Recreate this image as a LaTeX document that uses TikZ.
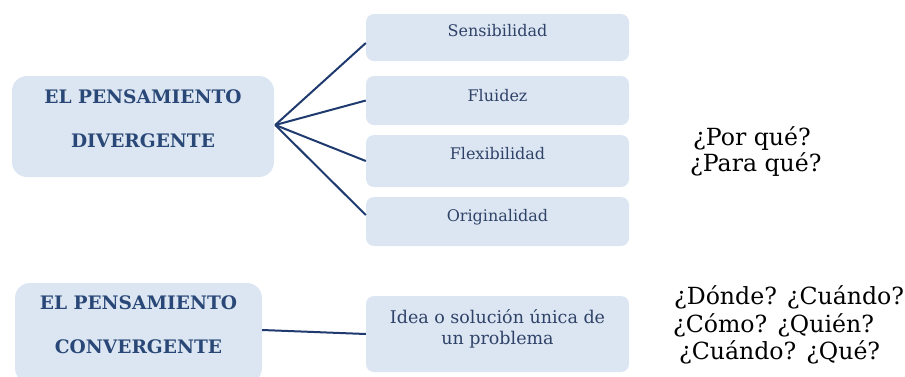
\documentclass[tikz,border=0pt]{standalone}
\usepackage{fontspec}
\setmainfont{DejaVu Serif}
\definecolor{boxfill}{HTML}{DCE6F2}
\definecolor{linec}{HTML}{1F3A6E}
\definecolor{headc}{HTML}{2A4877}
\definecolor{labc}{HTML}{2F4268}
\tikzset{
  bigbox/.style={fill=boxfill, draw=none, rounded corners=15pt, inner sep=0pt},
  smallbox/.style={fill=boxfill, draw=none, rounded corners=8pt, inner sep=0pt, minimum width=263pt},
  headtxt/.style={font=\fontsize{18.6}{22}\selectfont\bfseries, text=headc, inner sep=0pt, anchor=base},
  labtxt/.style={font=\fontsize{16}{19}\selectfont, text=labc, inner sep=0pt, anchor=base},
  qtxt/.style={font=\fontsize{23.6}{28}\selectfont, text=black, inner sep=0pt, anchor=base west},
  conn/.style={draw=linec, line width=2pt}
}
\begin{document}
\begin{tikzpicture}[x=1pt,y=-1pt]
\useasboundingbox (0,0) rectangle (905,376);
\clip (0,0) rectangle (905,376);
% big boxes
\node[bigbox, minimum width=262pt, minimum height=101pt] (d) at (143,126.5) {};
\node[bigbox, minimum width=247pt, minimum height=100pt] (c) at (138.5,333) {};
% small boxes
\node[smallbox, minimum height=47pt] (s1) at (497.5,37.5) {};
\node[smallbox, minimum height=49pt] (s2) at (497.5,100.5) {};
\node[smallbox, minimum height=52pt] (s3) at (497.5,161) {};
\node[smallbox, minimum height=49pt] (s4) at (497.5,221.5) {};
\node[smallbox, minimum height=76pt] (id) at (497.5,334) {};
% head texts
\node[headtxt] (d1) at (143,103) {EL PENSAMIENTO};
\node[headtxt] (d2) at (143,147) {DIVERGENTE};
\node[headtxt] (c1) at (138.5,309) {EL PENSAMIENTO};
\node[headtxt] (c2) at (138.5,353) {CONVERGENTE};
% labels
\node[labtxt] (l1) at (497.5,36) {Sensibilidad};
\node[labtxt] (l2) at (497.5,101) {Fluidez};
\node[labtxt] (l3) at (497.5,159) {Flexibilidad};
\node[labtxt] (l4) at (497.5,221) {Originalidad};
\node[labtxt, font=\fontsize{17.5}{21}\selectfont, align=center, anchor=base] (il) at (497.5,344) {Idea o solución única de\\un problema};
% questions
\node[qtxt] (q1) at (693,145) {¿Por qué?};
\node[qtxt] (q2) at (690,171) {¿Para qué?};
\node[qtxt] (q3) at (674,304) {¿Dónde? ¿Cuándo?};
\node[qtxt] (q4) at (673,332) {¿Cómo? ¿Quién?};
\node[qtxt] (q5) at (679,359) {¿Cuándo? ¿Qué?};
% connectors
\coordinate (o) at ([xshift=1pt,yshift=1.5pt]d.east);
\draw[conn] (o) -- ([yshift=-5.5pt]s1.west);
\draw[conn] (o) -- (s2.west);
\draw[conn] (o) -- (s3.west);
\draw[conn] (o) -- ([yshift=6.5pt]s4.west);
\draw[conn] ([yshift=3pt]c.east) -- (id.west);
\end{tikzpicture}
\end{document}
